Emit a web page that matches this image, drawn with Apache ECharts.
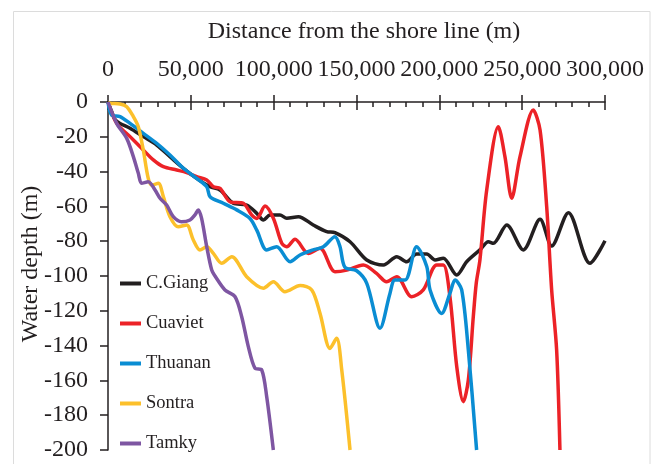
<!DOCTYPE html>
<html>
<head>
<meta charset="utf-8">
<script src="https://cdn.jsdelivr.net/npm/echarts@6/dist/echarts.min.js"></script>
<style>
html,body{margin:0;padding:0;background:#fff;}
#chart{width:658px;height:464px;}
</style>
</head>
<body>
<div id="chart"></div>
<script>
// Series names
var seriesNames = ['C.Giang', 'Cuaviet', 'Thuanan', 'Sontra', 'Tamky'];

// [distance (m), water depth (m)]
var cGiang = [[0,0],[2000,-5],[4200,-10],[7250,-12.3],[13300,-15.1],[21300,-19.9],[29400,-24.7],[37400,-31.4],[45500,-38.1],[53500,-43.9],[61600,-48.7],[67600,-50.6],[75600,-58.2],[83700,-59.2],[89800,-64],[93800,-67.8],[97800,-65],[103800,-65],[107900,-66.8],[114900,-65.9],[123900,-70.7],[132000,-74.5],[137000,-75.1],[146100,-80.3],[156200,-90.8],[166200,-93.7],[174300,-88.9],[180300,-91.8],[186300,-87.4],[192400,-87.4],[197400,-90.8],[202400,-89.8],[210500,-99.4],[216500,-91.8],[224500,-85],[229600,-80.3],[232600,-81.2],[240700,-70.7],[250700,-85],[260800,-67.4],[267800,-82.8],[277900,-63.6],[290900,-92.7],[300000,-79.7]];

var cuaviet = [[0,0],[5250,-12.3],[13300,-19.9],[21300,-27.6],[27350,-33.3],[33400,-37.2],[41500,-39.1],[47500,-40.6],[53500,-42.9],[59600,-44.8],[63600,-48.7],[67600,-49.6],[73600,-57.3],[81700,-58.2],[86700,-64.9],[89800,-66.9],[94800,-59.8],[99800,-66.8],[104900,-81.2],[107900,-83.2],[112900,-78.9],[120900,-87],[128000,-84.1],[137000,-97.5],[144100,-96.6],[154100,-93.7],[162100,-98.5],[168200,-103.3],[174300,-100.4],[183300,-111.9],[190300,-108],[198400,-93.7],[202400,-93.7],[206400,-111.9],[210500,-152],[214500,-172.2],[217500,-159.8],[220500,-123.4],[222300,-104],[224500,-90.8],[228600,-50.6],[235600,-14.2],[239600,-31.4],[243700,-55.3],[248700,-31.4],[256700,-4.6],[260800,-16.1],[264800,-60.2],[267800,-108],[270800,-142.5],[272800,-200]];

var thuanan = [[0,0],[2200,-7.5],[7250,-8.4],[13300,-12.3],[21300,-18],[29400,-23.8],[37400,-30.5],[45500,-38.1],[53500,-43.9],[59600,-48.7],[61600,-54.4],[69600,-58.2],[77700,-62],[85700,-66.9],[89800,-73.6],[95800,-85],[101800,-83.2],[109900,-91.8],[115900,-87.9],[123900,-85],[130000,-83.2],[137000,-77.4],[140000,-83],[143000,-95],[150100,-97],[156200,-104.2],[164200,-130],[170200,-110],[173200,-102.3],[179300,-102.3],[186300,-83.2],[192400,-94.6],[194400,-108],[201400,-121.5],[206400,-110],[209500,-102.3],[213500,-108],[217500,-142.5],[222500,-200]];

var sontra = [[0,0],[1200,-0.7],[7250,-1.1],[11300,-2.7],[15300,-8.4],[18300,-14.2],[21300,-27.6],[24300,-43.9],[26400,-47.7],[30400,-46.7],[33400,-54.4],[37400,-65.9],[42400,-71.7],[47500,-70.7],[51500,-79.3],[55500,-85],[59600,-83.2],[63600,-87],[68600,-92.7],[74700,-88.9],[83700,-100.4],[93800,-107],[99800,-103.3],[106800,-109],[116000,-105.5],[123000,-108],[128000,-121.5],[134000,-141.6],[138000,-135.8],[141100,-154],[146100,-200]];

var tamky = [[0,0],[5250,-12.3],[11300,-20.9],[15300,-31.4],[18300,-41],[20300,-46.7],[24300,-45.8],[28400,-50.6],[31400,-55.3],[35400,-59.2],[39400,-65.9],[44400,-68.8],[49500,-67.8],[52500,-64.9],[54500,-62],[56500,-66.9],[59600,-83.2],[62600,-96.6],[64600,-100],[70600,-108],[76700,-111.9],[80700,-123.4],[84700,-140.6],[88700,-153],[92800,-154],[95800,-169.4],[99800,-200]];

var seriesData = [cGiang, cuaviet, thuanan, sontra, tamky];
var seriesColors = ['#231f20', '#ec2227', '#0a8dd3', '#fcc02b', '#7e56a2'];

var xTicks = {min: 0, max: 300000, interval: 50000};
var yTicks = {min: -200, max: 0, interval: 20};

var FONT = 'Liberation Serif';
var TXT = '#231f20';

var chart = echarts.init(document.getElementById('chart'));

var series = seriesNames.map(function (n, i) {
  return {
    name: n,
    type: 'line',
    data: seriesData[i],
    xAxisIndex: 0,
    yAxisIndex: 0,
    symbol: 'none',
    smooth: 0.3,
    clip: true,
    lineStyle: {width: 3.5, color: seriesColors[i]},
    itemStyle: {color: seriesColors[i]},
    animation: false
  };
});

chart.setOption({
  animation: false,
  backgroundColor: '#ffffff',
  grid: {left: 108, right: 53, top: 102, bottom: 14, outerBoundsMode: 'none', containLabel: false},
  graphic: [
    {type: 'rect', silent: true, shape: {x: 13.5, y: 11.5, width: 636.5, height: 480}, style: {fill: 'none', stroke: '#dcdcdc', lineWidth: 1}},
    {type: 'text', x: 364, y: 32, style: {text: 'Distance from the shore line (m)', font: '24px "Liberation Serif"', fill: TXT, textAlign: 'center', textVerticalAlign: 'middle'}},
    {type: 'text', x: 31, y: 264, rotation: Math.PI / 2, style: {text: 'Water depth (m)', font: '24px "Liberation Serif"', fill: TXT, textAlign: 'center', textVerticalAlign: 'middle'}}
  ],
  legend: {
    orient: 'vertical',
    left: 120,
    top: 274,
    icon: 'rect',
    itemWidth: 21,
    itemHeight: 4,
    itemGap: 21,
    padding: 0,
    data: seriesNames,
    textStyle: {fontFamily: FONT, fontSize: 18.5, color: TXT, lineHeight: 18}
  },
  xAxis: [
    {
      type: 'value', position: 'top', min: xTicks.min, max: xTicks.max, interval: xTicks.interval,
      axisLine: {show: true, onZero: false, lineStyle: {color: TXT, width: 1.5}},
      axisTick: {show: true, inside: false, length: 7, lineStyle: {color: TXT, width: 1.5}},
      minorTick: {show: false},
      splitLine: {show: false},
      axisLabel: {show: true, margin: 20, fontFamily: FONT, fontSize: 24, color: TXT,
        formatter: function (v) { return v.toLocaleString('en-US'); }}
    },
    {
      type: 'value', position: 'top', min: xTicks.min, max: xTicks.max, interval: xTicks.interval,
      axisLine: {show: false, onZero: false},
      axisTick: {show: true, inside: true, length: 8, lineStyle: {color: TXT, width: 1.5}},
      minorTick: {show: true, splitNumber: 5, length: 5, lineStyle: {color: TXT, width: 1.5}},
      splitLine: {show: false},
      minorSplitLine: {show: false},
      axisLabel: {show: false}
    }
  ],
  yAxis: {
    type: 'value', min: yTicks.min, max: yTicks.max, interval: yTicks.interval,
    axisLine: {show: true, onZero: false, lineStyle: {color: TXT, width: 1.5}},
    axisTick: {show: true, inside: false, length: 8, lineStyle: {color: TXT, width: 1.5}},
    splitLine: {show: false},
    axisLabel: {margin: 20, fontFamily: FONT, fontSize: 24, color: TXT}
  },
  series: series
});
</script>
</body>
</html>
